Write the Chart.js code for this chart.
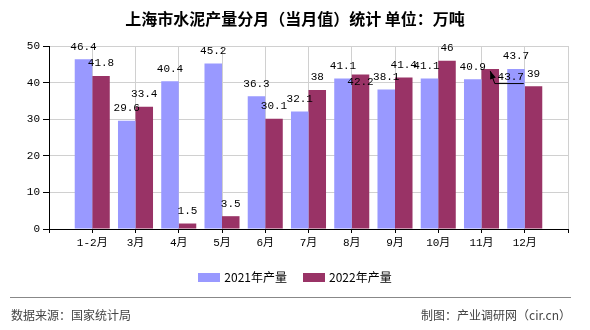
<!DOCTYPE html>
<html>
<head>
<meta charset="utf-8">
<script src="https://cdn.jsdelivr.net/npm/chart.js@4"></script>
<style>
  body { margin: 0; background: #fff; }
  #wrap { position: relative; width: 590px; height: 330px; background: #fff; font-family: 'Noto Sans CJK SC', sans-serif; }
  #wrap canvas { position: absolute; left: 0; top: 0; }
  .title { position: absolute; left: 0; top: 8px; width: 590px; text-align: center; font-size: 16px; line-height: 20px; font-weight: bold; color: #000; }
  .legend { position: absolute; left: 0; top: 269px; width: 590px; text-align: center; font-size: 12px; line-height: 16px; color: #000; }
  .legend span.item { display: inline-block; margin: 0 8px; }
  .legend i { display: inline-block; width: 22px; height: 9px; margin-right: 4px; vertical-align: 0px; }
  .rule { position: absolute; left: 10px; top: 297px; width: 561px; height: 1px; background: #888; }
  .src { position: absolute; left: 11px; top: 307px; font-size: 12px; line-height: 16px; color: #444; }
  .maker { position: absolute; right: 19px; top: 307px; font-size: 12px; line-height: 16px; color: #444; }
</style>
</head>
<body>
<div id="wrap">
  <canvas id="chart" width="590" height="330"></canvas>
  <div class="title">上海市水泥产量分月（当月值）统计 单位：万吨</div>
  <div class="legend" id="legend"></div>
  <div class="rule"></div>
  <div class="src">数据来源：国家统计局</div>
  <div class="maker">制图：产业调研网（cir.cn）</div>
</div>
<script>
// monthly cement output, Shanghai (10k tonnes)
const months = ['1-2月', '3月', '4月', '5月', '6月', '7月', '8月', '9月', '10月', '11月', '12月'];
const output2021 = [46.4, 29.6, 40.4, 45.2, 36.3, 32.1, 41.1, 38.1, 41.1, 40.9, 43.7];
const output2022 = [41.8, 33.4, 1.5, 3.5, 30.1, 38, 42.2, 41.4, 46, 43.7, 39];
const seriesNames = ['2021年产量', '2022年产量'];
const seriesColors = ['#9999FF', '#993366'];
const yMax = 50;
const yStep = 10;

// empty slot at each end, like the original axis
const labels = [''].concat(months, ['']);
const pad = arr => [null].concat(arr, [null]);

const numFont = "'Liberation Mono', 'Noto Sans CJK SC', monospace";

// a few labels were moved in the original to avoid overlapping
// key = datasetIndex-labelIndex (label index counts the empty first slot)
const labelNudge = {
  '1-7': { dx: 0, dy: 8, fromTop: true },  // 8月 2022
  '1-10': { callout: true },               // 11月 2022
  '0-9': { dx: -3, dy: 0 }                 // 10月 2021
};

const valueLabels = {
  id: 'valueLabels',
  afterDatasetsDraw(chart) {
    const ctx = chart.ctx;
    ctx.save();
    ctx.font = '11px ' + numFont;
    ctx.fillStyle = '#000';
    ctx.textAlign = 'center';
    ctx.textBaseline = 'middle';
    chart.data.datasets.forEach((ds, di) => {
      const meta = chart.getDatasetMeta(di);
      meta.data.forEach((bar, i) => {
        const v = ds.data[i];
        if (v === null || v === undefined) return;
        const nudge = labelNudge[di + '-' + i];
        const text = String(v);
        if (nudge && nudge.callout) {
          const tipX = bar.x, tipY = bar.y + 2;
          const elX = bar.x + 4.5, elY = bar.y + 14.5;
          const endX = bar.x + 33.5;
          ctx.strokeStyle = '#000';
          ctx.lineWidth = 1;
          ctx.beginPath();
          ctx.moveTo(tipX, tipY);
          ctx.lineTo(elX, elY);
          ctx.lineTo(endX, elY);
          ctx.stroke();
          const ang = Math.atan2(tipY - elY, tipX - elX);
          const len = 8, half = 3;
          ctx.beginPath();
          ctx.moveTo(tipX, tipY);
          ctx.lineTo(tipX - len * Math.cos(ang) + half * Math.sin(ang), tipY - len * Math.sin(ang) - half * Math.cos(ang));
          ctx.lineTo(tipX - len * Math.cos(ang) - half * Math.sin(ang), tipY - len * Math.sin(ang) + half * Math.cos(ang));
          ctx.closePath();
          ctx.fill();
          ctx.fillText(text, bar.x + 20.5, bar.y + 8);
          return;
        }
        let x = bar.x, y = bar.y - 12.5;
        if (nudge) {
          x += nudge.dx;
          y = nudge.fromTop ? bar.y + nudge.dy : y + nudge.dy;
        }
        ctx.fillText(text, x, y);
      });
    });
    ctx.restore();
  }
};

new Chart(document.getElementById('chart').getContext('2d'), {
  type: 'bar',
  data: {
    labels: labels,
    datasets: [
      {
        label: seriesNames[0],
        data: pad(output2021),
        backgroundColor: seriesColors[0],
        categoryPercentage: 0.81,
        barPercentage: 1
      },
      {
        label: seriesNames[1],
        data: pad(output2022),
        backgroundColor: seriesColors[1],
        categoryPercentage: 0.81,
        barPercentage: 1
      }
    ]
  },
  options: {
    responsive: false,
    animation: false,
    layout: { padding: { left: 0, top: 46, right: 22, bottom: 81 } },
    plugins: {
      legend: { display: false },
      title: { display: false },
      tooltip: { enabled: false }
    },
    scales: {
      x: {
        offset: false,
        grid: { offset: false, color: '#d0d0d0', tickColor: '#000', tickLength: 4 },
        border: { color: '#000' },
        ticks: {
          autoSkip: false,
          maxRotation: 0,
          padding: 3,
          color: '#000',
          font: { family: numFont, size: 11 }
        },
        afterFit(scale) { scale.height = 20; }
      },
      y: {
        min: 0,
        max: yMax,
        grid: { color: '#d0d0d0', tickColor: '#000', tickLength: 6 },
        border: { color: '#000' },
        ticks: {
          stepSize: yStep,
          padding: 3,
          color: '#000',
          font: { family: numFont, size: 11 }
        },
        afterFit(scale) { scale.width = 49; }
      }
    }
  },
  plugins: [valueLabels]
});

// legend built from the series names
const legendEl = document.getElementById('legend');
seriesNames.forEach((name, i) => {
  const item = document.createElement('span');
  item.className = 'item';
  const box = document.createElement('i');
  box.style.background = seriesColors[i];
  item.appendChild(box);
  item.appendChild(document.createTextNode(name));
  legendEl.appendChild(item);
});
</script>
</body>
</html>
